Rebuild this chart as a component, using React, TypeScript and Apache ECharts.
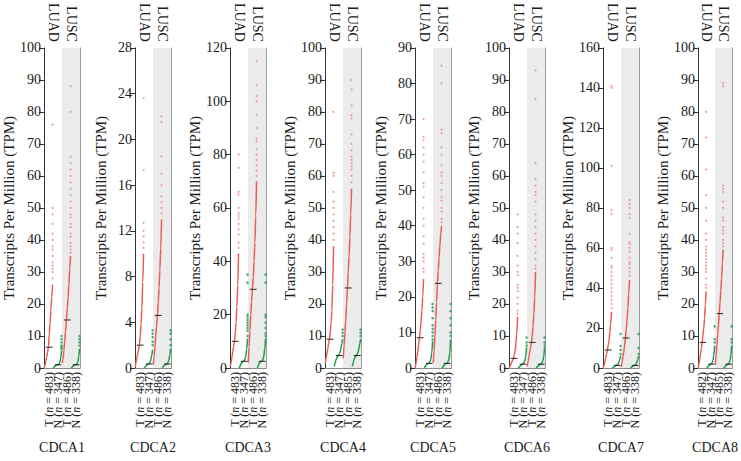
import React, { useEffect, useRef } from "react";
import * as echarts from "echarts";

const GENES = ["CDCA1", "CDCA2", "CDCA3", "CDCA4", "CDCA5", "CDCA6", "CDCA7", "CDCA8"];
const Y_MAX = [100, 28, 120, 100, 90, 100, 160, 100];
const Y_STEP = [10, 4, 20, 10, 10, 10, 20, 10];
const GROUPS = ["LUAD", "LUSC"];
const SAMPLE_TYPES = ["T", "N", "T", "N"];
const COUNTS = [
  [483, 347, 486, 338],
  [483, 347, 486, 338],
  [483, 347, 486, 338],
  [483, 347, 485, 338],
  [483, 347, 486, 338],
  [483, 347, 486, 338],
  [483, 347, 486, 338],
  [482, 347, 485, 338],
];
// medians: LUAD T, LUAD N, LUSC T, LUSC N
const MEDIANS = [
  [6.5, 1.0, 15, 1.0],
  [2.0, 0.35, 4.6, 0.35],
  [10, 2.5, 29.5, 2.5],
  [9, 3.9, 25, 3.9],
  [8.5, 1.3, 23.8, 1.3],
  [3, 1.2, 8, 1.2],
  [9, 1.3, 15, 1.3],
  [8, 1.2, 17, 1.2],
];
// sorted-value curves read at rank fractions
const CURVE_FRACTIONS = [0, 0.1, 0.2, 0.3, 0.4, 0.5, 0.6, 0.7, 0.8, 0.9, 1];

const CDCA1_CURVES = [
  [0, 1.0, 2.2, 3.5, 5, 6.5, 10.5, 14, 18, 22, 26],
  [0, 0.3, 0.6, 0.8, 0.9, 1.0, 1.1, 1.3, 1.8, 3, 5.5],
  [1.5, 3, 5.5, 8.5, 11.5, 15, 18.5, 22, 26, 31, 35],
  [0, 0.3, 0.6, 0.8, 0.9, 1.0, 1.1, 1.3, 1.8, 3.5, 6],
];
const CDCA1_TOPS = [
  [28, 30, 31, 32, 33, 35, 37, 38, 40, 42, 45, 48, 50, 76],
  [6, 6.5, 7, 8, 9, 10],
  [36, 37, 38, 39, 41, 42, 44, 45, 47, 48, 50, 52, 54, 56, 58, 60, 62, 64, 66, 80, 88],
  [7, 8, 9, 10],
];
const CDCA2_CURVES = [
  [0.1, 0.5, 0.9, 1.3, 1.6, 2.0, 2.8, 3.8, 5.2, 7.5, 10],
  [0, 0.1, 0.2, 0.25, 0.3, 0.35, 0.4, 0.5, 0.7, 1.1, 1.6],
  [0.3, 1, 1.8, 2.8, 3.7, 4.6, 5.7, 7, 8.6, 10.5, 13],
  [0, 0.1, 0.2, 0.25, 0.3, 0.35, 0.4, 0.5, 0.7, 1.1, 1.7],
];
const CDCA2_TOPS = [
  [10.5, 11, 11.5, 12, 12.7, 17.3, 23.6],
  [2, 2.3, 2.7, 3.0, 3.3],
  [13.5, 14, 14.5, 15, 16, 17, 18.5, 21.5, 22],
  [2, 2.5, 3, 3.3],
];
const CDCA3_CURVES = [
  [0.5, 2, 4, 6, 8, 10, 13, 17, 23, 31, 43],
  [0, 0.8, 1.5, 2.0, 2.3, 2.5, 2.8, 3.3, 4.5, 7, 11],
  [2, 8, 14, 20, 25, 29.5, 34, 40, 47, 57, 70],
  [0, 0.8, 1.5, 2.0, 2.3, 2.5, 2.8, 3.3, 4.5, 7, 11],
];
const CDCA3_TOPS = [
  [45, 47, 50, 52, 54, 56, 57, 58, 60, 65, 66, 75, 80],
  [12, 14, 15, 16, 17, 18, 19, 20, 32, 35],
  [72, 74, 76, 78, 80, 82, 85, 86, 90, 95, 100, 102, 106, 115],
  [12, 13, 15, 17, 19, 20, 32, 35],
];
const CDCA4_CURVES = [
  [1.5, 3, 4.5, 6, 7.5, 9, 11, 14, 18, 26, 38],
  [0.5, 1.5, 2.5, 3.2, 3.6, 3.9, 4.3, 5, 6, 7.5, 9],
  [3, 7, 11, 15, 20, 25, 30, 35, 41, 48, 56],
  [0.5, 1.5, 2.5, 3.2, 3.6, 3.9, 4.3, 5, 6, 7.5, 9],
];
const CDCA4_TOPS = [
  [40, 42, 44, 46, 48, 50, 52, 55, 60, 61, 80],
  [10, 11, 12],
  [58, 60, 62, 63, 64, 65, 66, 68, 70, 73, 78, 79, 82, 87, 90],
  [10, 11, 12],
];
const CDCA5_CURVES = [
  [0, 1.5, 3, 4.5, 6.5, 8.5, 10.5, 13, 16, 20, 25],
  [0, 0.4, 0.8, 1.0, 1.2, 1.3, 1.5, 1.8, 2.5, 4, 7.5],
  [1.5, 5, 9, 13.5, 18.5, 23.8, 27.5, 31, 34.5, 37.5, 40],
  [0, 0.4, 0.8, 1.0, 1.2, 1.3, 1.5, 1.8, 2.5, 4, 8],
];
const CDCA5_TOPS = [
  [27, 28, 30, 31, 32, 35, 37, 40, 42, 45, 48, 51, 52, 55, 58, 60, 62, 64, 65, 70],
  [8, 9, 10, 11, 12, 14, 16, 17, 18],
  [41, 42, 44, 45, 47, 48, 50, 52, 54, 55, 57, 60, 62, 66, 67, 80, 85],
  [9, 10, 12, 14, 16, 18],
];
const CDCA6_CURVES = [
  [0, 0.6, 1.2, 1.8, 2.4, 3, 4, 5.5, 7.5, 10.5, 16],
  [0, 0.3, 0.6, 0.8, 1.0, 1.2, 1.4, 1.7, 2.3, 3.5, 6.5],
  [0.5, 2, 3.5, 5, 6.5, 8, 10, 13, 17, 22, 30],
  [0, 0.3, 0.6, 0.8, 1.0, 1.2, 1.4, 1.7, 2.3, 3.5, 6.5],
];
const CDCA6_TOPS = [
  [17, 18, 20, 22, 24, 25, 26, 29, 30, 32, 35, 39, 42, 44, 48],
  [7, 8, 9.5],
  [31, 32, 34, 36, 38, 40, 42, 44, 46, 48, 52, 54, 55, 57, 59, 64, 84, 93],
  [7, 8, 9.5],
];
const CDCA7_CURVES = [
  [0, 1.5, 3, 5, 7, 9, 11.5, 14, 18, 22, 28],
  [0, 0.3, 0.6, 0.9, 1.1, 1.3, 1.6, 2, 2.8, 4, 6],
  [0.5, 3, 5.5, 8, 11, 15, 19, 24, 30, 37, 44],
  [0, 0.3, 0.6, 0.9, 1.1, 1.3, 1.6, 2, 2.8, 4, 6],
];
const CDCA7_TOPS = [
  [30, 32, 34, 36, 38, 40, 42, 44, 46, 48, 50, 51, 55, 59, 60, 77, 79, 101, 140, 141],
  [7, 9, 11, 17],
  [46, 48, 50, 52, 53, 55, 58, 60, 62, 63, 67, 75, 77, 80, 82, 84],
  [7, 10, 17],
];
const CDCA8_CURVES = [
  [0, 1.5, 3, 4.5, 6.2, 8, 10, 12.5, 15.5, 19.5, 24],
  [0, 0.3, 0.6, 0.8, 1.0, 1.2, 1.4, 1.7, 2.4, 4, 7],
  [1, 4, 7, 10.5, 13.5, 17, 20.5, 24, 28, 32.5, 37],
  [0, 0.3, 0.6, 0.8, 1.0, 1.2, 1.4, 1.7, 2.4, 4, 7],
];
const CDCA8_TOPS = [
  [25, 26, 28, 30, 31, 32, 33, 34, 35, 36, 37, 38, 40, 42, 46, 50, 54, 62, 72, 80],
  [8, 9, 13],
  [38, 39, 40, 42, 43, 44, 46, 47, 50, 52, 55, 56, 57, 88, 89],
  [8, 9, 13],
];

const CURVES = [CDCA1_CURVES, CDCA2_CURVES, CDCA3_CURVES, CDCA4_CURVES, CDCA5_CURVES, CDCA6_CURVES, CDCA7_CURVES, CDCA8_CURVES];
const TOPS = [CDCA1_TOPS, CDCA2_TOPS, CDCA3_TOPS, CDCA4_TOPS, CDCA5_TOPS, CDCA6_TOPS, CDCA7_TOPS, CDCA8_TOPS];

const AXIS_X = [44, 135, 230, 325, 415, 509, 603, 698];
const FONT = "Liberation Serif";
const RED = "#ec5a52";
const RED_DOT = "#f08580";
const GREEN = "#1a9a4c";
const TEXT = "#1a1a1a";

function buildOption() {
  const grid: any[] = [];
  const xAxis: any[] = [];
  const yAxis: any[] = [];
  const series: any[] = [];
  GENES.forEach((gene, g) => {
    grid.push({ left: AXIS_X[g], top: 35, width: 36, height: 333 });
    xAxis.push({ type: "value", gridIndex: g, min: 0, max: 4, show: false });
    xAxis.push({
      type: "category",
      gridIndex: g,
      position: "bottom",
      data: SAMPLE_TYPES,
      axisLine: { show: true, lineStyle: { color: "#8a8a8a", width: 1 } },
      axisTick: { show: false },
      axisLabel: {
        rotate: 90,
        interval: 0,
        margin: 4,
        fontFamily: FONT,
        fontSize: 12,
        formatter: (v: string, i: number) => `{a|${v} (}{i|n}{a| = ${COUNTS[g][i]})}`,
        rich: {
          a: { fontFamily: FONT, fontSize: 12, color: TEXT },
          i: { fontFamily: FONT, fontSize: 12, color: TEXT, fontStyle: "italic" },
        },
      },
      name: gene,
      nameLocation: "middle",
      nameGap: 72,
      nameTextStyle: { fontFamily: FONT, fontSize: 14, color: TEXT },
    });
    xAxis.push({
      type: "category",
      gridIndex: g,
      position: "top",
      data: GROUPS,
      axisLine: { show: false },
      axisTick: { show: false },
      splitLine: { show: false },
      splitArea: { show: true, areaStyle: { color: ["rgba(255,255,255,0)", "#ebebeb"] } },
      axisLabel: { rotate: 90, interval: 0, margin: 6, fontFamily: FONT, fontSize: 14, color: TEXT },
    });
    yAxis.push({
      type: "value",
      gridIndex: g,
      min: 0,
      max: Y_MAX[g],
      interval: Y_STEP[g],
      axisLine: { show: true, lineStyle: { color: "#333", width: 1 } },
      axisTick: { show: true, length: 5, lineStyle: { color: "#333" } },
      axisLabel: { fontFamily: FONT, fontSize: 14, color: TEXT, margin: 3 },
      splitLine: { show: false },
      name: "Transcripts Per Million (TPM)",
      nameLocation: "middle",
      nameGap: 27,
      nameTextStyle: { fontFamily: FONT, fontSize: 15, color: TEXT },
    });
    yAxis.push({
      type: "value",
      gridIndex: g,
      position: "right",
      min: 0,
      max: Y_MAX[g],
      axisLine: { show: true, lineStyle: { color: "#9a9a9a", width: 1 } },
      axisTick: { show: false },
      axisLabel: { show: false },
      splitLine: { show: false },
    });
    for (let b = 0; b < 4; b++) {
      const isT = b % 2 === 0;
      const color = isT ? RED : GREEN;
      series.push({
        type: "line",
        xAxisIndex: 3 * g,
        yAxisIndex: 2 * g,
        data: CURVE_FRACTIONS.map((f, k) => [b + 0.03 + 0.92 * f, CURVES[g][b][k]]),
        smooth: 0.3,
        smoothMonotone: "x",
        symbol: "none",
        lineStyle: { color, width: 1.5 },
        z: 3,
      });
      series.push({
        type: "scatter",
        xAxisIndex: 3 * g,
        yAxisIndex: 2 * g,
        data: TOPS[g][b].map((v) => [b + 0.95, v]),
        symbol: "circle",
        symbolSize: isT ? 2 : 2.5,
        itemStyle: { color: isT ? RED_DOT : GREEN },
        z: 3,
      });
      series.push({
        type: "line",
        xAxisIndex: 3 * g,
        yAxisIndex: 2 * g,
        data: [
          [b + 0.2, MEDIANS[g][b]],
          [b + 0.95, MEDIANS[g][b]],
        ],
        symbol: "none",
        lineStyle: { color: "#222", width: 1 },
        z: 4,
      });
    }
  });
  return {
    animation: false,
    backgroundColor: "#fff",
    textStyle: { fontFamily: FONT },
    grid,
    xAxis,
    yAxis,
    series,
  };
}

export default function App() {
  const ref = useRef<HTMLDivElement>(null);
  useEffect(() => {
    if (!ref.current) return;
    const chart = echarts.init(ref.current, undefined, { renderer: "svg" });
    chart.setOption(buildOption() as any);
    return () => chart.dispose();
  }, []);
  return <div ref={ref} style={{ position: "fixed", left: 0, top: 0, width: 741, height: 461 }} />;
}
